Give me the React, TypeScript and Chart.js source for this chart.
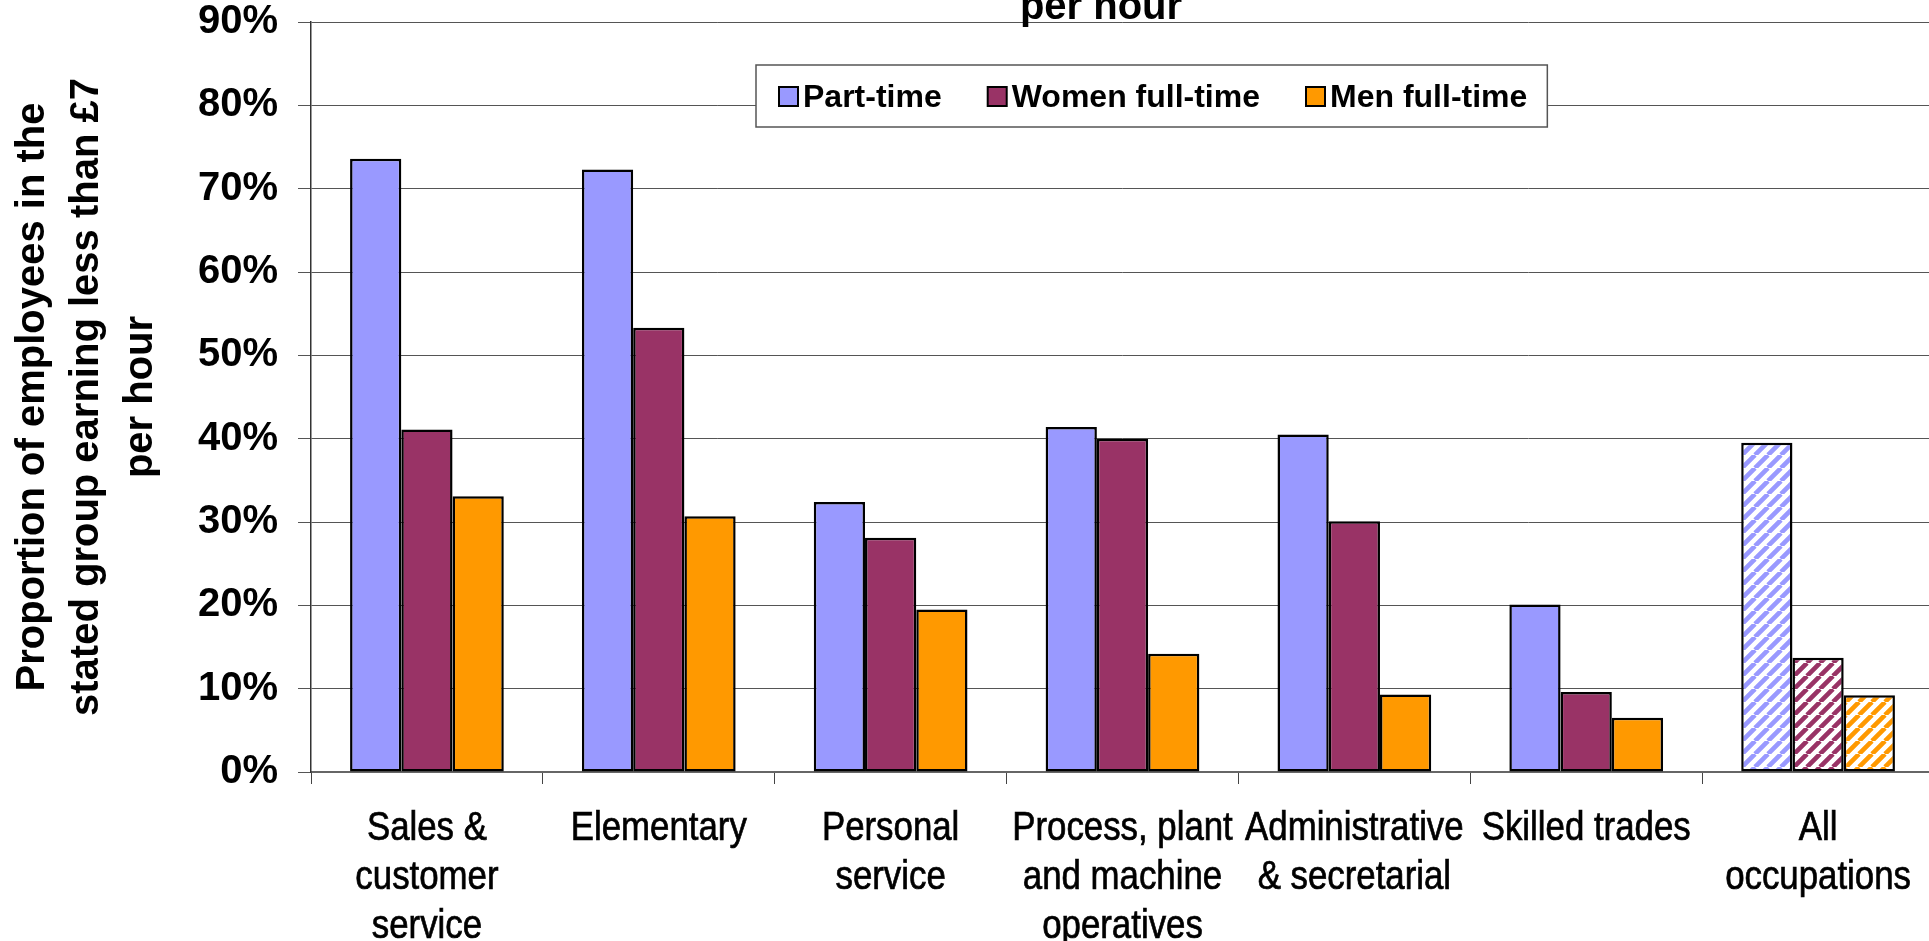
import React, { useEffect, useRef } from 'react';
import { Chart, registerables } from 'chart.js';

Chart.register(...registerables);

const categories: (string | string[])[] = [
  ['Sales &', 'customer', 'service'],
  'Elementary',
  ['Personal', 'service'],
  ['Process, plant', 'and machine', 'operatives'],
  ['Administrative', '& secretarial'],
  'Skilled trades',
  ['All', 'occupations'],
];
const partTime = [73.6, 72.3, 32.4, 41.4, 40.5, 20.1, 39.5];
const womenFullTime = [41.1, 53.3, 28.1, 40.0, 30.1, 9.6, 13.7];
const menFullTime = [33.1, 30.7, 19.5, 14.2, 9.3, 6.5, 9.2];
const seriesLabels = ['Part-time', 'Women full-time', 'Men full-time'];
const seriesColors = ['#9999FF', '#993366', '#FF9900'];
const hatchedIndex = 6;
const yMin = 0;
const yMax = 90;
const yStep = 10;
const chartTitle = 'per hour';
const yTitle = ['Proportion of employees in the', 'stated group earning less than £7', 'per hour'];

const SANS = '"Liberation Sans", Arial, Helvetica, sans-serif';

const CANVAS_W = 1934;
const CANVAS_H = 967;
const CANVAS_TOP = -26;

function makeHatch(ctx: CanvasRenderingContext2D, color: string): CanvasPattern | string {
  const s = 13;
  const tile = document.createElement('canvas');
  tile.width = s;
  tile.height = s;
  const g = tile.getContext('2d');
  if (!g) return color;
  g.fillStyle = '#ffffff';
  g.fillRect(0, 0, s, s);
  g.strokeStyle = color;
  g.lineWidth = 4.6;
  g.beginPath();
  for (const k of [-s, 0, s]) {
    g.moveTo(k, s);
    g.lineTo(k + s, 0);
  }
  g.stroke();
  return ctx.createPattern(tile, 'repeat') || color;
}

const titlePlugin = {
  id: 'clippedTitle',
  afterDraw(chart: any) {
    const ctx = chart.ctx as CanvasRenderingContext2D;
    ctx.save();
    ctx.font = `bold 40px ${SANS}`;
    ctx.fillStyle = '#000';
    ctx.textAlign = 'center';
    ctx.textBaseline = 'alphabetic';
    ctx.fillText(chartTitle, 1101, 19 - CANVAS_TOP);
    ctx.restore();
  },
};

// Category labels drawn in a narrow (horizontally condensed) sans face
const narrowLabelsPlugin = {
  id: 'narrowLabels',
  afterDraw(chart: any) {
    const ctx = chart.ctx as CanvasRenderingContext2D;
    const xs = chart.scales.x;
    ctx.save();
    ctx.font = `40px ${SANS}`;
    ctx.fillStyle = '#000';
    ctx.strokeStyle = '#000';
    ctx.lineWidth = 0.7;
    ctx.textAlign = 'center';
    ctx.textBaseline = 'alphabetic';
    (chart.data.labels as (string | string[])[]).forEach((lab, i) => {
      const lines = Array.isArray(lab) ? lab : [lab];
      const cx = xs.getPixelForTick(i);
      lines.forEach((ln, k) => {
        ctx.save();
        ctx.translate(cx, xs.top + 68 + k * 49);
        ctx.scale(0.87, 1);
        ctx.fillText(ln, 0, 0);
        ctx.strokeText(ln, 0, 0);
        ctx.restore();
      });
    });
    ctx.restore();
  },
};

const legendPlugin = {
  id: 'boxLegend',
  afterDraw(chart: any) {
    const ctx = chart.ctx as CanvasRenderingContext2D;
    const area = chart.chartArea;
    const bx = area.left + 445;
    const by = area.top + 43;
    const bh = 62;
    const marker = 19;
    ctx.save();
    ctx.font = `bold 32px ${SANS}`;
    const items = chart.data.datasets.map((d: any, i: number) => ({
      label: d.label as string,
      color: seriesColors[i],
      w: ctx.measureText(d.label).width,
    }));
    let x = bx + 23;
    const pos: number[] = [];
    items.forEach((it: any, i: number) => {
      pos.push(x);
      x += marker + 5 + it.w + (i < items.length - 1 ? 46 : 0);
    });
    const bw = x + 20 - bx;
    ctx.fillStyle = '#ffffff';
    ctx.fillRect(bx, by, bw, bh);
    ctx.strokeStyle = '#555555';
    ctx.lineWidth = 1.5;
    ctx.strokeRect(bx, by, bw, bh);
    items.forEach((it: any, i: number) => {
      const mx = pos[i];
      const my = by + 22;
      ctx.fillStyle = it.color;
      ctx.fillRect(mx, my, marker, marker);
      ctx.strokeStyle = '#000';
      ctx.lineWidth = 2;
      ctx.strokeRect(mx, my, marker, marker);
      ctx.fillStyle = '#000';
      ctx.textAlign = 'left';
      ctx.textBaseline = 'alphabetic';
      ctx.fillText(it.label, mx + marker + 5, by + 42);
    });
    ctx.restore();
  },
};

export default function App() {
  const canvasRef = useRef<HTMLCanvasElement | null>(null);

  useEffect(() => {
    const canvas = canvasRef.current;
    if (!canvas) return;
    const ctx = canvas.getContext('2d') as CanvasRenderingContext2D;
    const series = [partTime, womenFullTime, menFullTime];
    const datasets = series.map((values, i) => ({
      label: seriesLabels[i],
      data: values,
      backgroundColor: values.map((_, j) =>
        j === hatchedIndex ? makeHatch(ctx, seriesColors[i]) : seriesColors[i]
      ),
      borderColor: '#000000',
      borderWidth: 2.5,
      borderSkipped: false,
      categoryPercentage: 0.663,
      barPercentage: 1.0,
    }));

    const chart = new Chart(canvas, {
      type: 'bar',
      data: { labels: categories, datasets },
      plugins: [titlePlugin, legendPlugin, narrowLabelsPlugin],
      options: {
        animation: false,
        responsive: false,
        devicePixelRatio: 1,
        events: [],
        layout: { padding: { top: 48, left: 0, right: 0, bottom: 0 } },
        plugins: {
          legend: { display: false },
          title: { display: false },
          tooltip: { enabled: false },
        },
        scales: {
          x: {
            grid: {
              drawOnChartArea: false,
              drawTicks: true,
              tickLength: 12,
              color: '#444444',
              lineWidth: 1,
            },
            border: { color: '#666666', width: 2 },
            ticks: {
              display: false,
              autoSkip: false,
            },
            afterFit: (scale: any) => {
              scale.height = 169;
            },
          },
          y: {
            min: yMin,
            max: yMax,
            grid: {
              color: '#555555',
              lineWidth: 1,
              tickLength: 13,
              drawTicks: true,
            },
            border: { color: '#333333', width: 1.5 },
            ticks: {
              stepSize: yStep,
              color: '#000000',
              font: { family: SANS, size: 40, weight: 'bold', lineHeight: 1.0 },
              padding: 20,
              callback: (v: any) => `${v}%`,
            },
            title: {
              display: true,
              text: yTitle,
              color: '#000000',
              font: { family: SANS, size: 40, weight: 'bold', lineHeight: 1.35 },
              padding: { top: 6, bottom: 0 },
            },
            afterFit: (scale: any) => {
              scale.width = 311;
            },
          },
        },
      } as any,
    });
    return () => chart.destroy();
  }, []);

  return (
    <div
      style={{
        position: 'fixed',
        left: 0,
        top: 0,
        width: '100vw',
        height: '100vh',
        overflow: 'hidden',
        background: '#ffffff',
      }}
    >
      <canvas
        ref={canvasRef}
        width={CANVAS_W}
        height={CANVAS_H}
        style={{ position: 'absolute', left: 0, top: CANVAS_TOP, width: CANVAS_W, height: CANVAS_H }}
      />
    </div>
  );
}
